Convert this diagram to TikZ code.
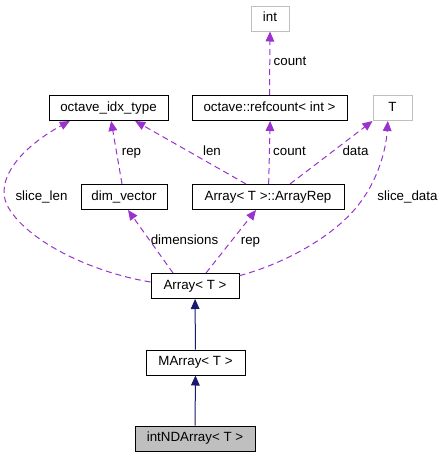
\documentclass[tikz,border=0pt]{standalone}
\usepackage{fontspec}
\setmainfont{Liberation Sans}
\usetikzlibrary{arrows.meta}
\definecolor{usecol}{HTML}{9A32CD}
\definecolor{inhcol}{HTML}{191970}
\definecolor{extcol}{HTML}{BFBFBF}

\begin{document}
\begin{tikzpicture}[x=0.75pt,y=-0.75pt,
	cls/.style={draw=black,line width=0.75pt,inner xsep=0pt,minimum height=18.75pt,text height=7.2pt,text depth=2pt,font=\fontsize{10pt}{12pt}\selectfont},
	ext/.style={cls,draw=extcol},
	uses/.style={draw=usecol,line width=0.75pt,dash pattern=on 4.5pt off 3pt,-{Triangle[length=7.5pt,width=6.5pt]}},
	inh/.style={draw=inhcol,line width=0.75pt,-{Triangle[length=7.5pt,width=6.5pt]}},
	lbl/.style={inner sep=0pt,text height=7.2pt,text depth=2pt,font=\fontsize{10pt}{12pt}\selectfont}]
\useasboundingbox (0,0) rectangle (445,457);
% classes
\node (int) [ext,minimum width=28.5pt] at (270,18.5) {int};
\node (idx) [cls,minimum width=89.25pt] at (108.5,108) {octave\_idx\_type};
\node (refcount) [cls,minimum width=116.25pt] at (269.5,108) {octave::refcount< int >};
\node (tparam) [ext,minimum width=29.25pt] at (392.5,108) {T};
\node (dimvec) [cls,minimum width=64.5pt] at (124,197) {dim\_vector};
\node (arrayrep) [cls,minimum width=114pt] at (268,197) {Array< T >::ArrayRep};
\node (array) [cls,minimum width=66pt] at (195,286) {Array< T >};
\node (marray) [cls,minimum width=74.25pt] at (195.5,362.5) {MArray< T >};
\node (intnd) [cls,fill=extcol,minimum width=90pt] at (195,438.5) {intNDArray< T >};
% members
\draw [uses] (refcount.north) -- (int.south);
\draw [uses] ([xshift=-1.5pt]dimvec.north) -- ([xshift=2pt]idx.south);
\draw [uses] ([xshift=-16.5pt]arrayrep.north) -- ([xshift=20pt]idx.south);
\draw [uses] ([xshift=0.5pt]arrayrep.north) -- ([xshift=0.5pt]refcount.south);
\draw [uses] ([xshift=16.5pt]arrayrep.north) -- ([xshift=-15pt]tparam.south);
\draw [uses] ([xshift=-16.5pt]array.north) -- ([xshift=3pt]dimvec.south);
\draw [uses] ([xshift=8.25pt]array.north) -- ([xshift=-9pt]arrayrep.south);
\draw [uses] ([yshift=3pt]array.west) .. controls (90,272) and (25,240) .. (7,205) .. controls (-5,180) and (20,148) .. ([xshift=-29pt]idx.south);
\draw [uses] ([yshift=-2pt]array.north east) .. controls (290,262) and (340,232) .. (362,200) .. controls (378,178) and (386,150) .. ([xshift=-3.5pt]tparam.south);
% labels
\node (l1) [lbl] at (290,62) {count};
\node (l2) [lbl] at (131.5,152) {rep};
\node (l3) [lbl] at (212,152) {len};
\node (l4) [lbl] at (289.5,152) {count};
\node (l5) [lbl] at (355.5,152) {data};
\node (l6) [lbl] at (41.5,197) {slice\_len};
\node (l7) [lbl] at (407.5,197) {slice\_data};
\node (l8) [lbl] at (184.5,241) {dimensions};
\node (l9) [lbl] at (250.5,241) {rep};
% inheritance
\draw [inh] (marray) -- (array);
\draw [inh] (intnd) -- (marray);
\end{tikzpicture}
\end{document}
